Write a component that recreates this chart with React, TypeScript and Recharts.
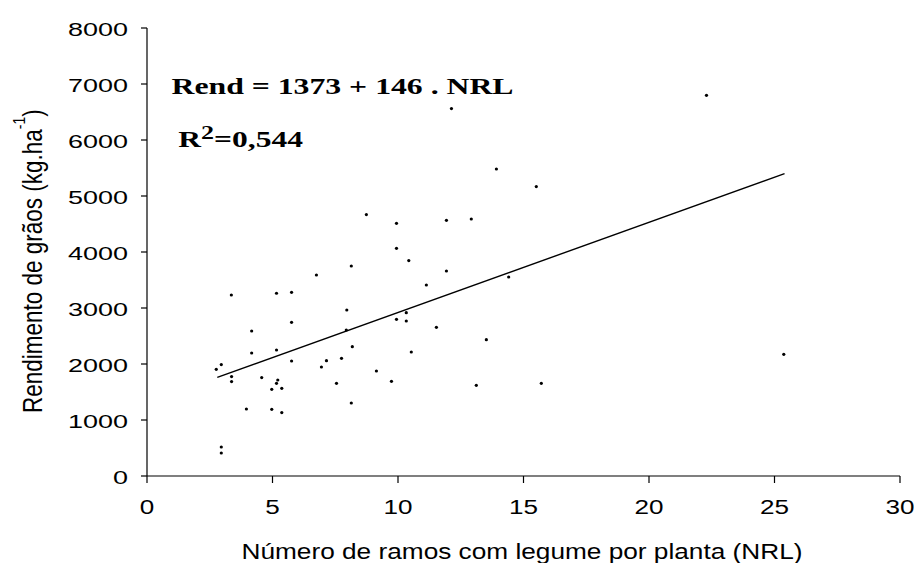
import { ScatterChart, Scatter, XAxis, YAxis, ReferenceLine, Label } from 'recharts'

// número de ramos com legume por planta (NRL) e rendimento de grãos (kg/ha)
const NRL = [
  3.36, 5.16, 5.76, 7.96, 5.76, 4.17, 7.94, 8.18, 4.17, 5.16,
  5.76, 2.76, 2.96, 3.37, 3.37, 4.57, 5.21, 5.16, 4.97, 5.37,
  3.96, 4.97, 5.37, 2.96, 2.96, 6.95, 7.15, 7.75, 7.55, 8.14,
  8.74, 9.94, 11.93, 12.92, 9.94, 10.43, 8.14, 11.93, 11.13, 14.41,
  10.33, 9.94, 10.33, 11.53, 13.52, 10.53, 9.14, 9.74, 13.12, 15.71,
  6.75, 12.13, 13.92, 15.51, 22.29, 25.37,
]
const REND = [
  3232, 3263, 3280, 2964, 2745, 2589, 2607, 2310, 2196, 2250,
  2054, 1905, 1989, 1775, 1686, 1757, 1714, 1655, 1548, 1566,
  1196, 1191, 1132, 518, 411, 1946, 2060, 2101, 1655, 1304,
  4668, 4512, 4566, 4589, 4066, 3846, 3750, 3661, 3411, 3554,
  2917, 2798, 2768, 2655, 2435, 2214, 1875, 1691, 1620, 1655,
  3589, 6561, 5482, 5168, 6798, 2173,
]

// extremos da reta de regressão
const FIT_X = [2.8, 25.4]
const FIT_Y = [1760, 5400]

const X_TICKS = [0, 5, 10, 15, 20, 25, 30]
const Y_TICKS = [0, 1000, 2000, 3000, 4000, 5000, 6000, 7000, 8000]

const points = NRL.map((x, i) => ({ x, y: REND[i] }))

const SANS = 'Liberation Sans, Arial, sans-serif'
const SERIF = 'Liberation Serif, Times New Roman, serif'

function YTick({ x, y, payload }: any) {
  const s = String(payload.value)
  return (
    <text
      x={x}
      y={y + 8}
      textAnchor="end"
      fontFamily={SANS}
      fontSize={19}
      fill="#000"
      textLength={s.length * 15}
      lengthAdjust="spacingAndGlyphs"
    >
      {s}
    </text>
  )
}

function XTick({ x, y, payload }: any) {
  const s = String(payload.value)
  return (
    <text
      x={x}
      y={y + 29}
      textAnchor="middle"
      fontFamily={SANS}
      fontSize={20.5}
      fill="#000"
      textLength={s.length * 14.5}
      lengthAdjust="spacingAndGlyphs"
    >
      {s}
    </text>
  )
}

const Dot = (p: any) => <circle cx={p.cx} cy={p.cy} r={1.6} fill="#000" />

const XTitle = () => (
  <text
    x={241.5}
    y={559}
    fontFamily={SANS}
    fontSize={22}
    fill="#000"
    textLength={561}
    lengthAdjust="spacingAndGlyphs"
  >
    Número de ramos com legume por planta (NRL)
  </text>
)

const Annotations = () => (
  <g>
    <text
      transform="translate(41.5,413) scale(1.24,1) rotate(-90)"
      fontFamily={SANS}
      fontSize={22.5}
      fill="#000"
    >
      Rendimento de grãos (kg.ha
      <tspan dy={-13} fontSize={14}>-1</tspan>
      <tspan dy={13}>)</tspan>
    </text>
    <text
      x={171.5}
      y={94}
      fontFamily={SERIF}
      fontWeight="bold"
      fontSize={24}
      fill="#000"
      textLength={342}
      lengthAdjust="spacingAndGlyphs"
    >
      Rend = 1373 + 146 . NRL
    </text>
    <text
      transform="translate(178.3,146.7) scale(1.37,1)"
      fontFamily={SERIF}
      fontWeight="bold"
      fontSize={23}
      fill="#000"
    >
      R<tspan dy={-8} fontSize={19}>2</tspan>
      <tspan dy={8}>=0,544</tspan>
    </text>
  </g>
)

export default function App() {
  return (
    <div style={{ position: 'absolute', left: 0, top: 0, background: '#fff' }}>
      <ScatterChart
        width={914}
        height={563}
        margin={{ top: 28, right: 14, bottom: 0, left: 0 }}
      >
        <XAxis
          type="number"
          dataKey="x"
          domain={[0, 30]}
          ticks={X_TICKS}
          height={87}
          tickSize={7}
          axisLine={{ stroke: '#000', strokeWidth: 1.2 }}
          tickLine={{ stroke: '#000', strokeWidth: 1.2 }}
          tick={<XTick />}
          interval={0}
        >
          <Label content={XTitle} />
        </XAxis>
        <YAxis
          type="number"
          dataKey="y"
          domain={[0, 8000]}
          ticks={Y_TICKS}
          width={147}
          tickSize={6}
          tickMargin={13}
          axisLine={{ stroke: '#000', strokeWidth: 1.2 }}
          tickLine={{ stroke: '#000', strokeWidth: 1.2 }}
          tick={<YTick />}
          interval={0}
        >
          <Label content={Annotations} />
        </YAxis>
        <ReferenceLine
          segment={[
            { x: FIT_X[0], y: FIT_Y[0] },
            { x: FIT_X[1], y: FIT_Y[1] },
          ]}
          stroke="#000"
          strokeWidth={1.4}
          ifOverflow="visible"
        />
        <Scatter data={points} fill="#000" shape={Dot} isAnimationActive={false} />
      </ScatterChart>
    </div>
  )
}
